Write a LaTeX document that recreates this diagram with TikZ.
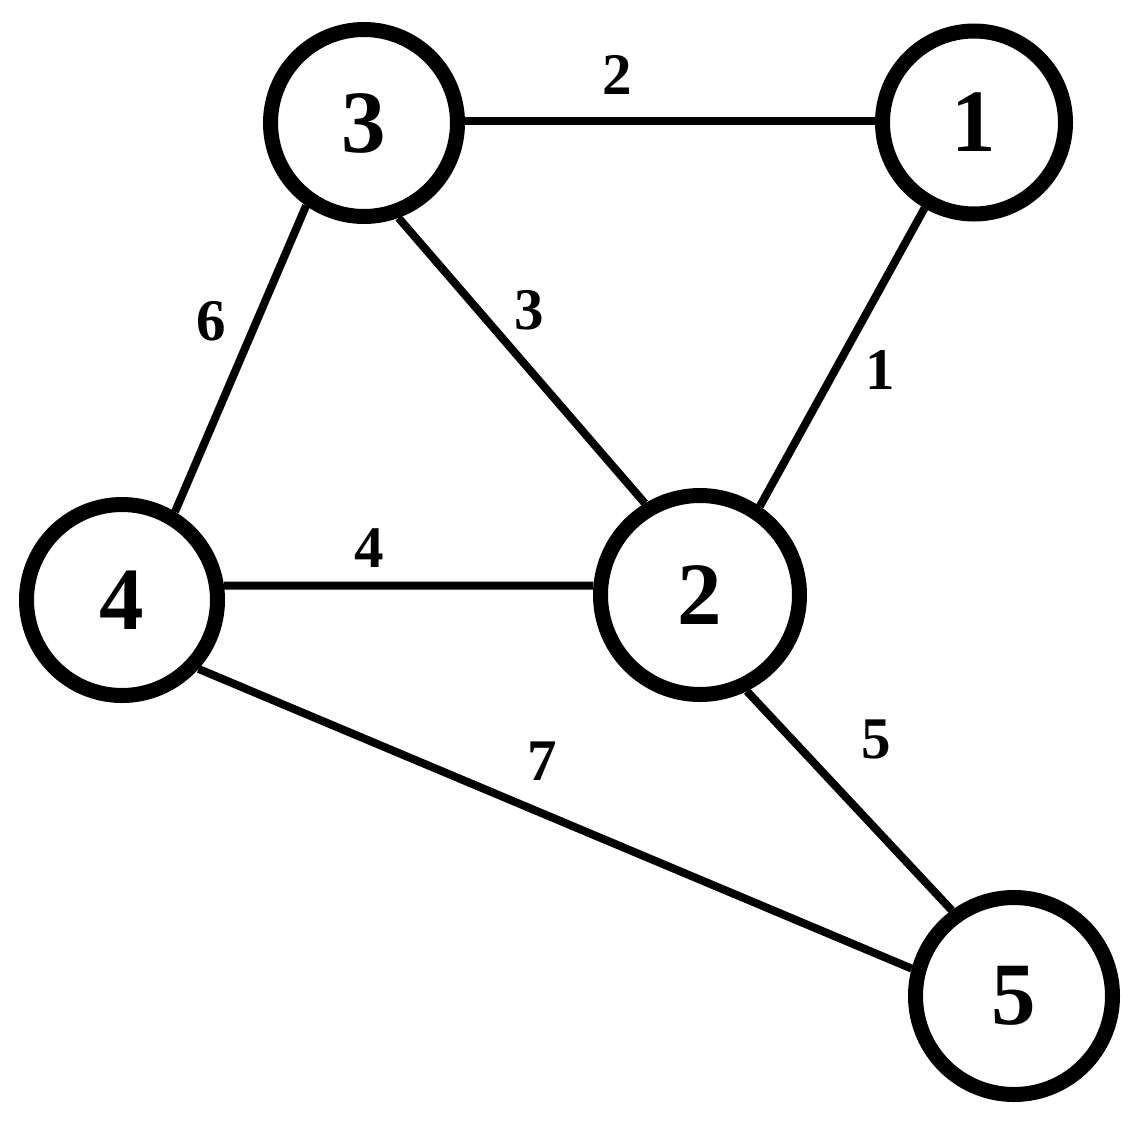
\documentclass[tikz,border=0pt]{standalone}
\usepackage{fontspec}
\setmainfont{Liberation Serif}
\begin{document}
\begin{tikzpicture}[x=1pt,y=-1pt,
  vertex/.style={circle,draw=black,line width=15pt,inner sep=0pt,font=\bfseries\fontsize{89}{89}\selectfont},
  wlabel/.style={inner sep=0pt,font=\bfseries\fontsize{59}{59}\selectfont},
  edge/.style={draw=black,line width=8pt}]
\path[use as bounding box,fill=white] (0,0) rectangle (1143,1120);
\node[vertex,minimum size=187pt] (n3) at (364,123) {3};
\node[vertex,minimum size=183pt] (n1) at (974,122.5) {1};
\node[vertex,minimum size=191pt] (n4) at (122,600) {4};
\node[vertex,minimum size=199pt] (n2) at (700,595) {2};
\node[vertex,minimum size=197pt] (n5) at (1014,996) {5};
\path[edge] (n3.east |- 0,121) -- (n1.west |- 0,121);
\path[edge] (n3.290) -- (n2.121.5);
\path[edge] (n1.240.6) -- (n2.56.9);
\path[edge] (n3.235.9) -- (n4.59.9);
\path[edge] (n4.8) -- (n2.175);
\path[edge] (n4.318.9) -- (n5.165.6);
\path[edge] (n2.296.3) -- (n5.126.9);
\node[wlabel] (l31) at (617,75) {2};
\node[wlabel] (l32) at (529,310) {3};
\node[wlabel] (l12) at (880,370) {1};
\node[wlabel] (l34) at (211,321) {6};
\node[wlabel] (l42) at (369,548) {4};
\node[wlabel] (l25) at (876,739) {5};
\node[wlabel] (l45) at (542,761) {7};
\end{tikzpicture}
\end{document}
